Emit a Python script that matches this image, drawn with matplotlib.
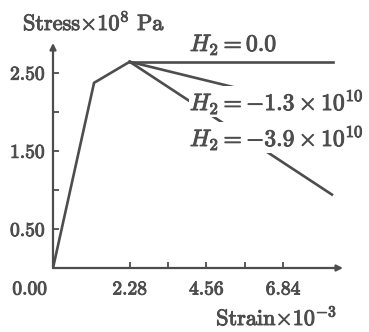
import matplotlib
matplotlib.use("Agg")
import matplotlib.pyplot as plt
import matplotlib.transforms as mtransforms
import matplotlib.patheffects as pe

plt.rcParams['mathtext.fontset'] = 'cm'
plt.rcParams['font.family'] = ['cmr10', 'DejaVu Serif']
plt.rcParams['axes.formatter.use_mathtext'] = True

C = '#4d4d4d'
bold = [pe.withStroke(linewidth=0.7, foreground=C)]

# data
rise_strain = [0.0, 1.22, 2.28]
rise_stress = [0.0, 2.37, 2.64]
branch_labels = [r'$H_2 = 0.0$', r'$H_2 = -1.3\times10^{10}$', r'$H_2 = -3.9\times10^{10}$']
branch_end_strain = [8.32, 8.45, 8.29]
branch_end_stress = [2.64, 1.99, 0.94]
label_pos = [(4.07, 2.86), (4.07, 2.13), (4.07, 1.67)]
xticks = [0.0, 2.28, 4.56, 6.84]
xtick_labels = ['0.00', '2.28', '4.56', '6.84']
xminor = [3.42, 5.70]
yticks = [0.5, 1.0, 1.5, 2.0, 2.5]
ytick_labels = ['0.50', '', '1.50', '', '2.50']

fig = plt.figure(figsize=(3.69, 3.32), dpi=100)
ax = fig.add_axes([53/369, (332-268)/332, 290/369, 225/332])
ax.set_xlim(0, 8.62)
ax.set_ylim(0, 2.88)

lw = 1.9
ax.plot(rise_strain, rise_stress, color=C, lw=lw, solid_joinstyle='miter', zorder=2)
for xe, ye in zip(branch_end_strain, branch_end_stress):
    ax.plot([rise_strain[-1], xe], [rise_stress[-1], ye], color=C, lw=lw, zorder=2)

for lab, (lx, ly) in zip(branch_labels, label_pos):
    ax.text(lx, ly, lab, ha='left', va='center', fontsize=17, color=C, zorder=3,
            path_effects=bold,
            bbox=dict(facecolor='white', edgecolor='none', pad=0.5))

for s in ['top', 'right', 'left', 'bottom']:
    ax.spines[s].set_visible(False)
ax.annotate('', xy=(1, 0), xytext=(0, 0), xycoords='axes fraction',
            arrowprops=dict(arrowstyle='-|>', color=C, lw=1.6, mutation_scale=9,
                            shrinkA=0, shrinkB=0), annotation_clip=False)
ax.annotate('', xy=(0, 1), xytext=(0, 0), xycoords='axes fraction',
            arrowprops=dict(arrowstyle='-|>', color=C, lw=1.6, mutation_scale=9,
                            shrinkA=0, shrinkB=0), annotation_clip=False)

ax.set_xticks(xticks)
ax.set_xticklabels(xtick_labels)
ax.set_xticks(xminor, minor=True)
ax.set_yticks(yticks)
ax.set_yticklabels(ytick_labels)
ax.tick_params(axis='both', which='both', direction='in', length=4, width=1.3,
               color=C, labelcolor=C, labelsize=14, pad=6)
ax.tick_params(axis='x', which='major', pad=9)
for t in ax.get_xticklabels() + ax.get_yticklabels():
    t.set_path_effects(bold)

# shift origin label left
lab0 = ax.get_xticklabels()[0]
lab0.set_horizontalalignment('right')
lab0.set_transform(lab0.get_transform() + mtransforms.ScaledTranslation(-6/100, 0, fig.dpi_scale_trans))

fig.text(23/369, 1 - 22/332, r'Stress$\times10^8$ Pa', ha='left', va='center',
         fontsize=16, color=C, path_effects=bold)
fig.text(337/369, 1 - 317/332, r'Strain$\times10^{-3}$', ha='right', va='center',
         fontsize=16, color=C, path_effects=bold)

fig.savefig('out.png', dpi=100, facecolor='white')
